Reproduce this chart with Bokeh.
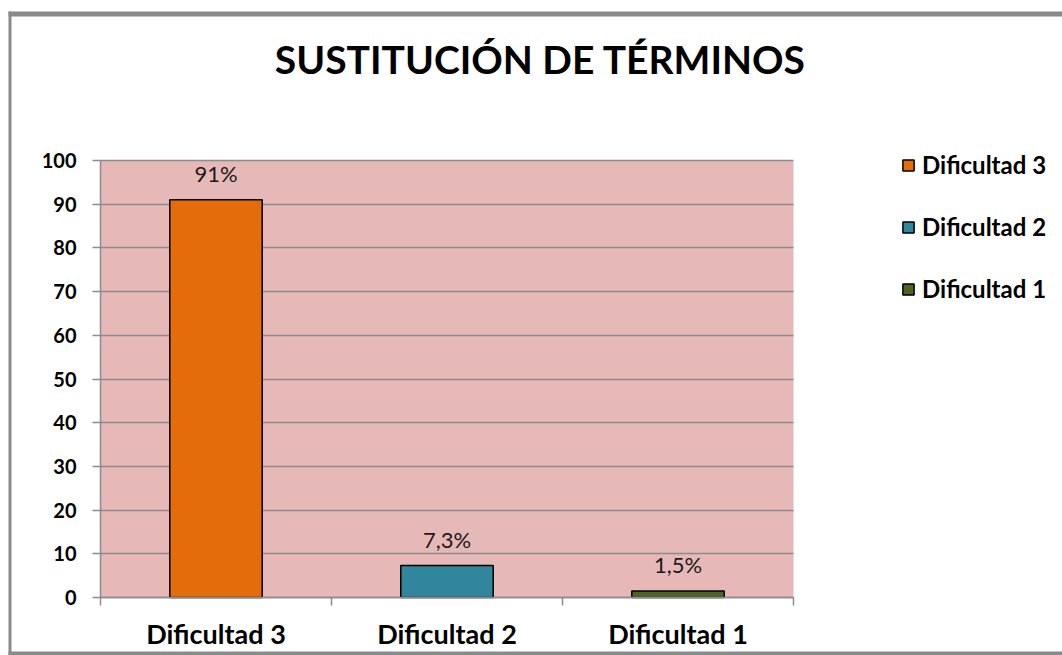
from bokeh.plotting import figure
from bokeh.models import ColumnDataSource, Range1d, FixedTicker, Label, BoxAnnotation
from bokeh.core.properties import value
from bokeh.embed import file_html
from bokeh.resources import INLINE

# ---- data ----
title_text = "SUSTITUCIÓN DE TÉRMINOS"
categories = ["Dificultad 3", "Dificultad 2", "Dificultad 1"]
values = [91, 7.3, 1.5]
value_labels = ["91%", "7,3%", "1,5%"]
colors = ["#E46C0A", "#31859C", "#4F6228"]
y_ticks = [0, 10, 20, 30, 40, 50, 60, 70, 80, 90, 100]
y_max = 100

# ---- layout constants (pixels) ----
FIG_W, FIG_H = 1062, 655
PLOT_LEFT, PLOT_RIGHT = 100, 793   # pink plot area, horizontal extent
PLOT_TOP, PLOT_BOTTOM = 160, 597   # pink plot area, vertical extent

FONT = "Lato"
GRAY = "#8c8c8c"
BORDER = "#8a8a8a"
n = len(categories)

# pixel -> data helpers (the frame covers the whole canvas)
px_x = lambda px: (px - PLOT_LEFT) * n / (PLOT_RIGHT - PLOT_LEFT)
px_y = lambda py: (PLOT_BOTTOM - py) * y_max / (PLOT_BOTTOM - PLOT_TOP)

xpos = [i + 0.5 for i in range(n)]
src = ColumnDataSource(dict(x=xpos, top=values, cat=categories, color=colors,
                            lab=value_labels))

p = figure(width=FIG_W, height=FIG_H, output_backend="svg", toolbar_location=None,
           x_range=Range1d(px_x(0), px_x(FIG_W)),
           y_range=Range1d(px_y(FIG_H), px_y(0)), title=None,
           min_border_left=0, min_border_right=0, min_border_top=0,
           min_border_bottom=0)
p.background_fill_color = "white"
p.border_fill_color = "white"
p.outline_line_color = None

# pink plot area
p.add_layout(BoxAnnotation(left=0, right=n, bottom=0, top=y_max,
                           fill_color="#E6B9B8", fill_alpha=1, line_color=None,
                           level="image"))

r = p.vbar(x="x", top="top", width=0.4, source=src, fill_color="color",
           line_color="black", line_width=1.5, legend_field="cat")

p.text(x="x", y="top", text="lab", source=src, text_align="center",
       text_baseline="bottom", y_offset=-13, text_font=value(FONT),
       text_font_size="22px", text_color="#1a1a1a")

# y axis, fixed at the left edge of the plot area
p.yaxis.fixed_location = 0
p.yaxis.ticker = FixedTicker(ticks=y_ticks)
p.yaxis.bounds = (0, y_max)
p.yaxis.axis_line_color = GRAY
p.yaxis.axis_line_width = 1.5
p.yaxis.major_tick_line_color = GRAY
p.yaxis.major_tick_line_width = 1.5
p.yaxis.major_tick_out = 8
p.yaxis.major_tick_in = 0
p.yaxis.minor_tick_line_color = None
p.yaxis.major_label_standoff = 16
p.yaxis.major_label_text_font = FONT
p.yaxis.major_label_text_font_style = "bold"
p.yaxis.major_label_text_font_size = "20px"
p.yaxis.major_label_text_color = "black"

# x axis at y = 0: category labels at centres, boundary ticks as minor ticks
p.xaxis.fixed_location = 0
p.xaxis.ticker = FixedTicker(ticks=xpos, minor_ticks=list(range(n + 1)))
p.xaxis.bounds = (0, n)
p.xaxis.major_label_overrides = {xp: c for xp, c in zip(xpos, categories)}
p.xaxis.axis_line_color = GRAY
p.xaxis.axis_line_width = 1.5
p.xaxis.major_tick_line_color = None
p.xaxis.major_tick_out = 0
p.xaxis.major_tick_in = 0
p.xaxis.minor_tick_line_color = GRAY
p.xaxis.minor_tick_line_width = 1.5
p.xaxis.minor_tick_out = 8
p.xaxis.minor_tick_in = 0
p.xaxis.major_label_standoff = 11
p.xaxis.major_label_text_font = FONT
p.xaxis.major_label_text_font_style = "bold"
p.xaxis.major_label_text_font_size = "27px"
p.xaxis.major_label_text_color = "black"

p.xgrid.grid_line_color = None
p.ygrid.grid_line_color = GRAY
p.ygrid.grid_line_width = 1.5
p.ygrid.cross_bounds = (0, n)
p.ygrid.bounds = (0, y_max)

# legend (location measured from the frame's bottom-left = canvas bottom-left)
leg = p.legend[0]
leg.location = (901, FIG_H - 303)
leg.orientation = "vertical"
leg.padding = 0
leg.margin = 0
leg.spacing = 33
leg.glyph_width = 14
leg.glyph_height = 14
leg.label_height = 24
leg.label_standoff = 7
leg.label_text_font = FONT
leg.label_text_font_style = "bold"
leg.label_text_font_size = "24px"
leg.label_text_color = "black"
leg.border_line_color = None
leg.background_fill_alpha = 0

# title
p.add_layout(Label(x=px_x(540), y=px_y(58), text=title_text,
                   text_align="center", text_baseline="middle",
                   text_font=FONT, text_font_style="bold",
                   text_font_size="39px", text_color="black"))

# outer chart frame: left, top and bottom strips (right side is off-canvas)
for l, rgt, t, b in [(8, 11, 11, FIG_H), (8, FIG_W + 10, 11, 16),
                     (8, FIG_W + 10, 651, FIG_H)]:
    p.add_layout(BoxAnnotation(left=px_x(l), right=px_x(rgt), top=px_y(t),
                               bottom=px_y(b), fill_color=BORDER, fill_alpha=1,
                               line_color=None, level="overlay"))

open("out.html", "w").write(file_html(p, INLINE))
